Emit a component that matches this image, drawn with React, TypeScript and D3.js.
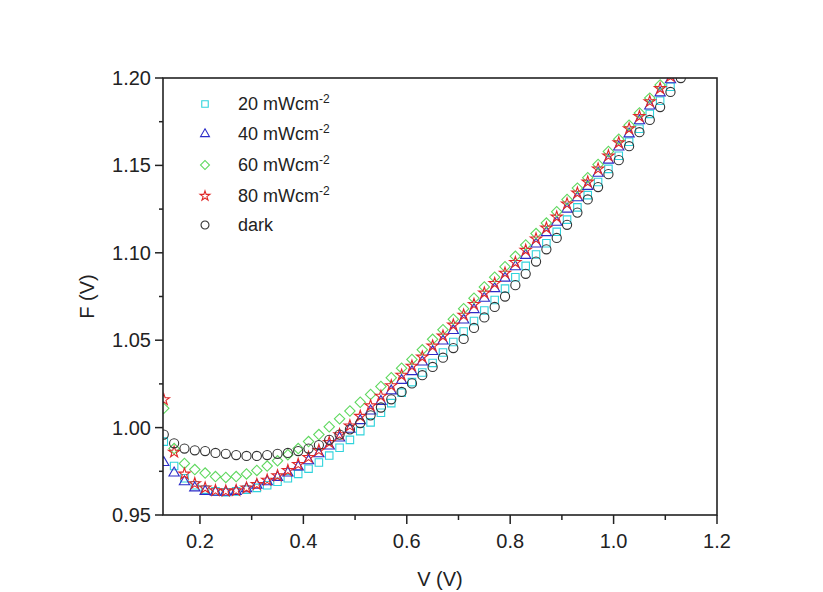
import React from "react";
import * as d3 from "d3";

const V = [0.13,0.15,0.17,0.19,0.21,0.23,0.25,0.27,0.29,0.31,0.33,0.35,0.37,0.39,0.41,0.43,0.45,0.47,0.49,0.51,0.53,0.55,0.57,0.59,0.61,0.63,0.65,0.67,0.69,0.71,0.73,0.75,0.77,0.79,0.81,0.83,0.85,0.87,0.89,0.91,0.93,0.95,0.97,0.99,1.01,1.03,1.05,1.07,1.09,1.11,1.13];

const F20 = [0.992,0.978,0.971,0.967,0.9645,0.9635,0.963,0.9635,0.9645,0.9655,0.967,0.969,0.971,0.9735,0.9765,0.980,0.984,0.9885,0.993,0.998,1.003,1.0085,1.014,1.020,1.026,1.0315,1.037,1.043,1.049,1.055,1.061,1.067,1.073,1.0795,1.086,1.0925,1.099,1.1055,1.112,1.119,1.126,1.133,1.1405,1.148,1.1555,1.1635,1.171,1.1795,1.187,1.195,1.203];

const F40 = [0.980,0.974,0.969,0.9655,0.9635,0.963,0.963,0.9635,0.965,0.967,0.969,0.9715,0.974,0.9775,0.981,0.985,0.9895,0.994,0.999,1.004,1.0095,1.015,1.021,1.027,1.032,1.0375,1.0435,1.0495,1.0555,1.0615,1.0675,1.074,1.0795,1.0855,1.092,1.0985,1.105,1.1115,1.1175,1.125,1.1315,1.138,1.1455,1.153,1.1605,1.168,1.1755,1.184,1.1915,1.199,1.207];

const F60 = [1.011,0.988,0.9795,0.976,0.974,0.972,0.9715,0.972,0.9735,0.9755,0.978,0.981,0.9845,0.988,0.992,0.996,1.0005,1.005,1.0095,1.0145,1.019,1.0235,1.0285,1.034,1.039,1.0445,1.0505,1.056,1.062,1.068,1.074,1.0805,1.086,1.092,1.098,1.1045,1.111,1.117,1.1235,1.1305,1.137,1.143,1.1505,1.158,1.165,1.173,1.180,1.1885,1.196,1.203,1.211];

const F80 = [1.016,0.986,0.9735,0.968,0.9655,0.964,0.9637,0.964,0.9655,0.9675,0.970,0.9725,0.9755,0.979,0.983,0.987,0.9915,0.996,1.001,1.0065,1.0125,1.018,1.024,1.030,1.0352,1.0404,1.0467,1.0524,1.0587,1.0644,1.0705,1.077,1.0825,1.0884,1.0945,1.1015,1.108,1.1142,1.1205,1.128,1.1342,1.1405,1.148,1.1555,1.163,1.171,1.178,1.1865,1.194,1.201,1.209];

const FDark = [0.996,0.991,0.988,0.987,0.9866,0.9855,0.985,0.9843,0.9838,0.9838,0.9843,0.985,0.9855,0.9866,0.988,0.990,0.993,0.996,0.999,1.0026,1.007,1.0115,1.0162,1.0204,1.0253,1.030,1.0347,1.040,1.0455,1.0507,1.057,1.063,1.069,1.075,1.0815,1.088,1.095,1.102,1.1085,1.116,1.123,1.1305,1.1376,1.145,1.153,1.161,1.169,1.176,1.1834,1.192,1.200];

const seriesNames = ["20 mWcm", "40 mWcm", "60 mWcm", "80 mWcm", "dark"];
const seriesSup = ["-2", "-2", "-2", "-2", ""];
const xTicks = [0.2, 0.4, 0.6, 0.8, 1.0, 1.2];
const xMinor = [0.3, 0.5, 0.7, 0.9, 1.1];
const yTicks = [0.95, 1.0, 1.05, 1.1, 1.15, 1.2];
const yMinor = [0.975, 1.025, 1.075, 1.125, 1.175];

const W = 823, H = 592;
const L = 163, R = 717, T = 78, B = 515;

const series = [
  { data: F20, color: "#2fd3dc", sym: d3.symbolSquare, size: 56, rot: 0 },
  { data: F40, color: "#2b2bc8", sym: d3.symbolTriangle, size: 46, rot: 0 },
  { data: F60, color: "#5fd85f", sym: d3.symbolSquare, size: 54, rot: 45 },
  { data: F80, color: "#e02828", sym: d3.symbolStar, size: 40, rot: 0 },
  { data: FDark, color: "#333333", sym: d3.symbolCircle, size: 66, rot: 0 },
];

export default function App() {
  const x = d3.scaleLinear().domain([0.1285, 1.2]).range([L, R]);
  const y = d3.scaleLinear().domain([0.95, 1.2]).range([B, T]);
  const font = "Arial, 'Liberation Sans', sans-serif";
  const legendX = 205, legendTextX = 238;
  const legendY = [104, 134, 165, 196, 225];

  return (
    <svg width={W} height={H} style={{ position: "absolute", left: 0, top: 0, background: "#fff" }} fontFamily={font}>
      <defs>
        <clipPath id="plotclip">
          <rect x={L} y={T} width={R - L} height={B - T} />
        </clipPath>
      </defs>
      <rect x={0} y={0} width={W} height={H} fill="#fff" />
      <g clipPath="url(#plotclip)">
        {series.map((s, si) => {
          const path = d3.symbol().type(s.sym).size(s.size)() as string;
          return (
            <g key={si}>
              {V.map((v, i) => (
                <path
                  key={i}
                  d={path}
                  transform={`translate(${x(v)},${y(s.data[i])}) rotate(${s.rot})`}
                  fill="none"
                  stroke={s.color}
                  strokeWidth={1.1}
                />
              ))}
            </g>
          );
        })}
      </g>
      <rect x={L} y={T} width={R - L} height={B - T} fill="none" stroke="#222" strokeWidth={1.6} />
      {xTicks.map((t) => (
        <g key={"xt" + t}>
          <line x1={x(t)} x2={x(t)} y1={B} y2={B + 9} stroke="#222" strokeWidth={1.5} />
          <text x={x(t)} y={B + 33} textAnchor="middle" fontSize={20} fill="#222">{t.toFixed(1)}</text>
        </g>
      ))}
      {xMinor.map((t) => (
        <line key={"xm" + t} x1={x(t)} x2={x(t)} y1={B} y2={B + 5} stroke="#222" strokeWidth={1.5} />
      ))}
      {yTicks.map((t) => (
        <g key={"yt" + t}>
          <line x1={L - 8} x2={L} y1={y(t)} y2={y(t)} stroke="#222" strokeWidth={1.5} />
          <text x={L - 12} y={y(t) + 7} textAnchor="end" fontSize={20} fill="#222">{t.toFixed(2)}</text>
        </g>
      ))}
      {yMinor.map((t) => (
        <line key={"ym" + t} x1={L - 4} x2={L} y1={y(t)} y2={y(t)} stroke="#222" strokeWidth={1.5} />
      ))}
      <text x={(L + R) / 2} y={586} textAnchor="middle" fontSize={20} fill="#222">V (V)</text>
      <text transform={`translate(94,${(T + B) / 2}) rotate(-90)`} textAnchor="middle" fontSize={20} fill="#222">F (V)</text>
      {series.map((s, si) => {
        const path = d3.symbol().type(s.sym).size(s.size * 0.75)() as string;
        return (
          <g key={"lg" + si}>
            <path d={path} transform={`translate(${legendX},${legendY[si]}) rotate(${s.rot})`} fill="none" stroke={s.color} strokeWidth={1.1} />
            <text x={legendTextX} y={legendY[si] + 6} fontSize={18} fill="#222">
              {seriesNames[si]}
              {seriesSup[si] && <tspan dy={-7} fontSize={12}>{seriesSup[si]}</tspan>}
            </text>
          </g>
        );
      })}
    </svg>
  );
}
